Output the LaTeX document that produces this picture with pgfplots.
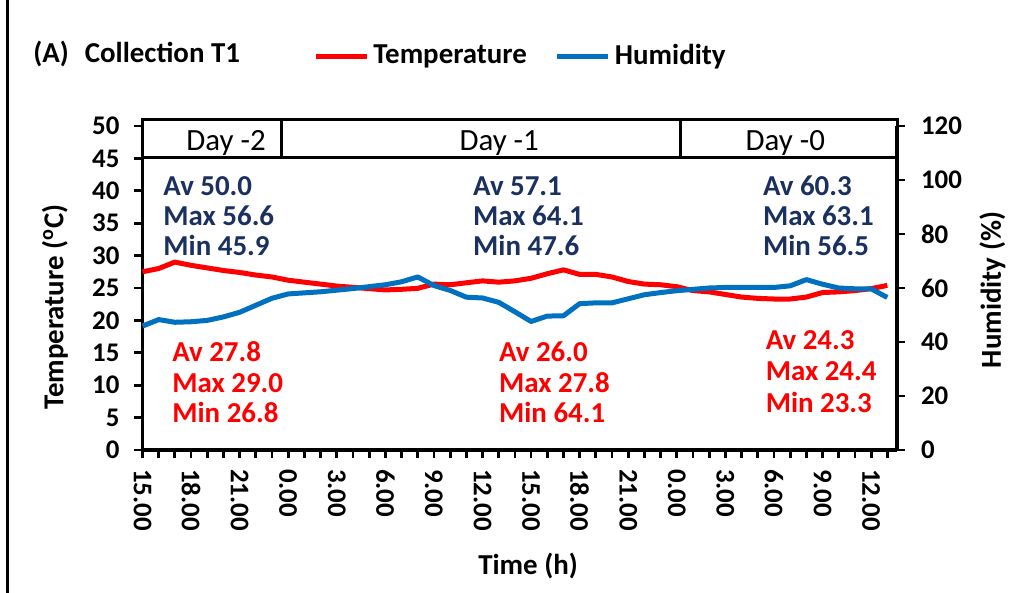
\documentclass[border=0pt]{standalone}
\usepackage{fontspec}
\setmainfont{Carlito}
\usepackage{pgfplots}
\pgfplotsset{compat=1.18}

\definecolor{tempred}{RGB}{255,0,0}
\definecolor{humblue}{RGB}{0,112,192}
\definecolor{navy}{RGB}{26,48,94}

\newcommand\bigfont{\fontsize{14.5}{17}\selectfont\bfseries}
\newcommand\dayfont{\fontsize{15.5}{18}\selectfont\mdseries}
\newcommand\tickfont{\fontsize{13.5}{16}\selectfont\bfseries}

\pgfplotsset{
  common/.style={
    at={(71.25bp,71.5bp)}, anchor=south west,
    scale only axis, width=377.25bp, height=162bp,
    xmin=0, xmax=46.6,
    clip=false,
    axis line style={line width=1.6bp, black},
    tick align=outside,
    major tick length=4bp, minor tick length=4bp,
    every tick/.style={black, line width=1.4bp},
    /pgf/number format/assume math mode=true,
    tick label style={font=\tickfont},
  },
}

\begin{document}
\begin{tikzpicture}
\path[use as bounding box] (0,0) rectangle (509.5bp,296.5bp);
\draw[line width=1.5bp] (3.5bp,0) -- (3.5bp,296.5bp);

% title
\node[anchor=base west, inner sep=0pt, font=\bigfont] at (16.5bp,265bp) {(A)\hspace{8bp}Collection T1};

% temperature axis (left)
\begin{axis}[common,
  ymin=0, ymax=50, ytick={0,5,...,50},
  axis x line*=bottom, axis y line*=left,
  xtick={0,3,...,45},
  xticklabels={15.00,18.00,21.00,0.00,3.00,6.00,9.00,12.00,15.00,18.00,21.00,0.00,3.00,6.00,9.00,12.00},
  minor xtick={0,...,46},
  xticklabel style={yshift=-2bp, rotate=-90, anchor=west},
  yticklabel style={xshift=-4bp},
  xlabel={Time (h)}, ylabel={Temperature (\textsuperscript{o}C)},
  label style={font=\bigfont},
  xlabel style={at={(axis description cs:0.511,-0.358)}, anchor=center},
  ylabel style={at={(axis description cs:-0.116,0.441)}, anchor=center},
]
\addplot[tempred, line width=2.5bp, line join=round] coordinates {
(0,27.5)(1,28.0)(2,29.0)(3,28.5)(4,28.1)(5,27.7)(6,27.4)(7,27.0)(8,26.7)
(9,26.2)(10,25.9)(11,25.6)(12,25.3)(13,25.1)(14,24.9)(15,24.7)(16,24.8)
(17,24.95)(18,25.6)(19,25.5)(20,25.8)(21,26.1)(22,25.9)(23,26.1)(24,26.5)
(25,27.2)(26,27.8)(27,27.1)(28,27.1)(29,26.7)(30,26.0)(31,25.6)(32,25.5)
(33,25.2)(34,24.6)(35,24.4)(36,24.0)(37,23.6)(38,23.4)(39,23.3)(40,23.3)
(41,23.6)(42,24.3)(43,24.4)(44,24.6)(45,24.9)(46,25.4)
};

% day header boxes
\draw[line width=1.5bp, fill=white] (axis cs:0,45.1) rectangle (axis cs:46.6,51.0);
\draw[line width=1.5bp] (axis cs:8.6,45.1) -- (axis cs:8.6,51.0);
\draw[line width=1.5bp] (axis cs:33.25,45.1) -- (axis cs:33.25,51.0);
\node[font=\dayfont, anchor=base] at (axis cs:5.16,46.2) {Day -2};
\node[font=\dayfont, anchor=base] at (axis cs:22.03,46.2) {Day -1};
\node[font=\dayfont, anchor=base] at (axis cs:39.7,46.2) {Day -0};

% humidity summaries
\begin{scope}[every node/.style={anchor=base west, inner sep=0pt, font=\bigfont, text=navy}]
\node at (axis cs:1.27,39.35) {Av 50.0};
\node at (axis cs:1.27,34.65) {Max 56.6};
\node at (axis cs:1.27,29.94) {Min 45.9};
\node at (axis cs:20.4,39.35) {Av 57.1};
\node at (axis cs:20.4,34.65) {Max 64.1};
\node at (axis cs:20.4,29.94) {Min 47.6};
\node at (axis cs:38.3,39.35) {Av 60.3};
\node at (axis cs:38.3,34.65) {Max 63.1};
\node at (axis cs:38.3,29.94) {Min 56.5};
\end{scope}

% temperature summaries
\begin{scope}[every node/.style={anchor=base west, inner sep=0pt, font=\bigfont, text=tempred}]
\node at (axis cs:1.82,13.66) {Av 27.8};
\node at (axis cs:1.82,8.87) {Max 29.0};
\node at (axis cs:1.82,4.24) {Min 26.8};
\node at (axis cs:22.0,13.66) {Av 26.0};
\node at (axis cs:22.0,8.87) {Max 27.8};
\node at (axis cs:22.0,4.24) {Min 64.1};
\node at (axis cs:38.47,15.51) {Av 24.3};
\node at (axis cs:38.47,10.73) {Max 24.4};
\node at (axis cs:38.47,5.79) {Min 23.3};
\end{scope}
\end{axis}

% humidity axis (right)
\begin{axis}[common,
  ymin=0, ymax=120, ytick={0,20,...,120},
  axis y line*=right, axis x line=none,
  yticklabel style={xshift=4.5bp},
  ylabel={Humidity (\%)},
  label style={font=\bigfont},
  ylabel style={at={(axis description cs:1.1266,0.494)}, anchor=center, rotate=0},
  legend columns=2,
  legend style={at={(axis description cs:0.2260,1.216)}, anchor=west,
    draw=none, fill=none, inner sep=0pt, font=\bigfont,
    /tikz/every even column/.append style={column sep=12bp}},
  legend image code/.code={\draw[#1] (0bp,0bp) -- (25.5bp,0bp);},
]
\addlegendimage{tempred, line width=2.5bp}
\addlegendentry{Temperature}
\addplot[humblue, line width=2.5bp, line join=round] coordinates {
(0,45.9)(1,48.3)(2,47.3)(3,47.5)(4,48.0)(5,49.3)(6,51.0)(7,53.6)(8,56.2)
(9,57.8)(10,58.2)(11,58.6)(12,59.2)(13,59.8)(14,60.5)(15,61.2)(16,62.3)
(17,64.1)(18,60.9)(19,59.1)(20,56.6)(21,56.3)(22,54.7)(23,51.2)(24,47.6)
(25,49.6)(26,49.7)(27,54.2)(28,54.5)(29,54.5)(30,56.0)(31,57.5)(32,58.3)
(33,59.0)(34,59.5)(35,60.0)(36,60.2)(37,60.2)(38,60.2)(39,60.2)(40,60.8)
(41,63.1)(42,61.4)(43,60.0)(44,59.7)(45,59.7)(46,56.5)
};
\addlegendentry{Humidity}
\end{axis}
\end{tikzpicture}
\end{document}
